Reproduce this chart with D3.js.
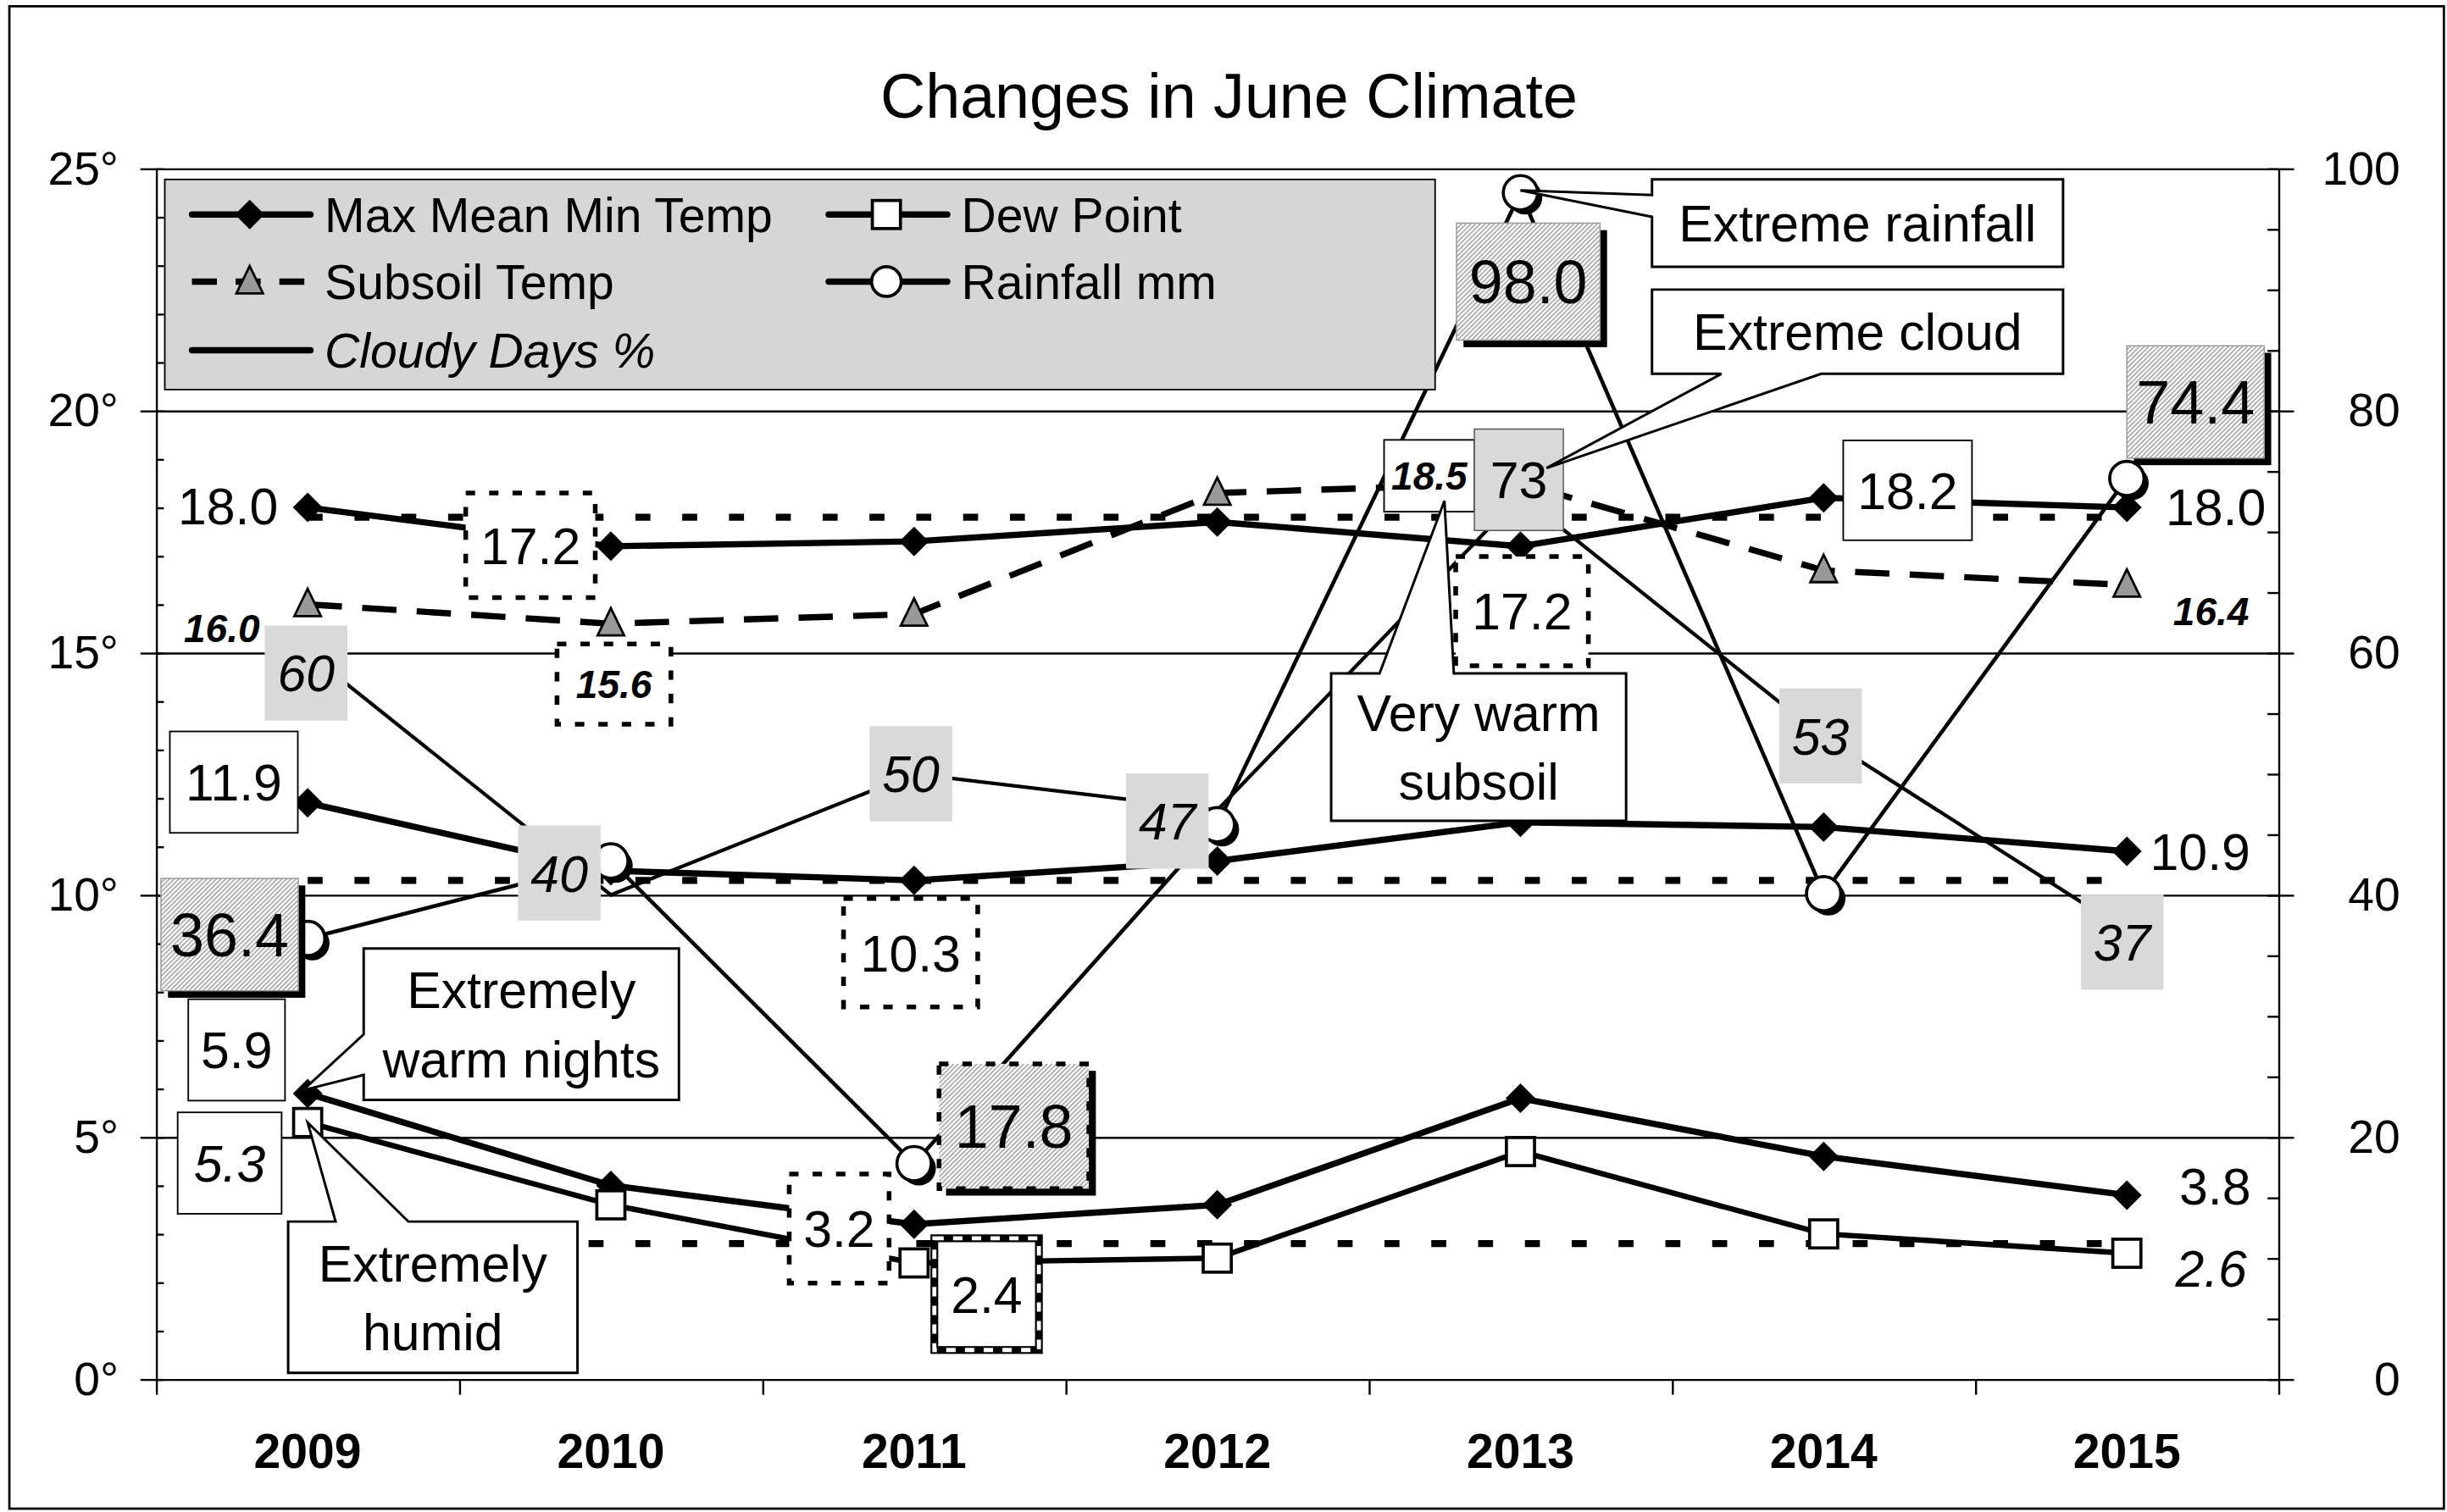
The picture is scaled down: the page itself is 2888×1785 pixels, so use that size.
<!DOCTYPE html>
<html>
<head>
<meta charset="utf-8">
<script src="https://cdn.jsdelivr.net/npm/d3@7"></script>
<style>
  body { margin: 0; background: #fff; }
  svg { display: block; }
</style>
</head>
<body>
<svg></svg>
<script>
let years = [ '2009', '2010', '2011', '2012', '2013', '2014', '2015' ]
let maxTemp = [ 18.0, 17.2, 17.3, 17.7, 17.2, 18.2, 18.0 ]
let meanTemp = [ 11.9, 10.5, 10.3, 10.7, 11.5, 11.4, 10.9 ]
let minTemp = [ 5.9, 4.0, 3.2, 3.6, 5.8, 4.6, 3.8 ]
let dewPoint = [ 5.3, 3.6, 2.4, 2.5, 4.7, 3.0, 2.6 ]
let subsoilTemp = [ 16.0, 15.6, 15.8, 18.3, 18.5, 16.7, 16.4 ]
let rainfall = [ 36.4, 42.8, 17.8, 45.8, 98.0, 40.1, 74.4 ]
let cloudyDays = [ 60, 40, 50, 47, 73, 53, 37 ]
let longTermMeans = [ 17.8, 10.3, 2.8 ]
let leftTicks = [ 0, 5, 10, 15, 20, 25 ]
let rightTicks = [ 0, 20, 40, 60, 80, 100 ]

const FONT = '"Liberation Sans", Arial, Helvetica, sans-serif'

// everything is laid out in a 1568 wide box and scaled up to the window
let width = 2888
let height = 1785
let unit = width / 1568

let svg =
d3.select( 'svg' )
  .attr( 'width', width )
  .attr( 'height', height )
  .attr( 'viewBox', `0 0 1568 ${ height / unit }` )
  .attr( 'font-family', FONT )

const xScale =
d3.scaleBand()
  .domain( years )
  .range( [ 100, 1460 ] )

const xMid = year => xScale( year ) + xScale.bandwidth() / 2

const yLeft =
d3.scaleLinear()
  .domain( [ 0, 25 ] )
  .range( [ 884, 108 ] )

const yRight =
d3.scaleLinear()
  .domain( [ 0, 100 ] )
  .range( [ 884, 108 ] )

let seriesValues = {
  max: maxTemp, mean: meanTemp, min: minTemp, dew: dewPoint,
  subsoil: subsoilTemp, rain: rainfall, cloud: cloudyDays
}

const scaleFor = key => ( key === 'rain' || key === 'cloud' ) ? yRight : yLeft

const pointOf = ( key, year ) => {
  let i = years.indexOf( year )
  return [ xMid( year ), scaleFor( key )( seriesValues[ key ][ i ] ) ]
}

let defs = svg.append( 'defs' )

defs.append( 'pattern' )
  .attr( 'id', 'hatch' )
  .attr( 'patternUnits', 'userSpaceOnUse' )
  .attr( 'width', 3 )
  .attr( 'height', 3 )
  .append( 'path' )
  .attr( 'd', 'M-1,1 l2,-2 M0,3 l3,-3 M2,4 l2,-2' )
  .attr( 'stroke', '#8c8c8c' )
  .attr( 'stroke-width', 0.7 )

// frame and title
svg.append( 'rect' )
  .attr( 'x', 6 )
  .attr( 'y', 4 )
  .attr( 'width', 1560 )
  .attr( 'height', 963 )
  .attr( 'fill', '#fff' )
  .attr( 'stroke', '#000' )
  .attr( 'stroke-width', 1.5 )

svg.append( 'text' )
  .text( 'Changes in June Climate' )
  .attr( 'x', 787.5 )
  .attr( 'y', 75.6 )
  .attr( 'text-anchor', 'middle' )
  .attr( 'font-size', 40 )

// axes and grid
const styleAxis = ( g, size ) => {
  g.attr( 'font-family', FONT ).attr( 'font-size', size )
  g.selectAll( 'line' ).attr( 'stroke', '#000' ).attr( 'stroke-width', 1.3 )
  g.selectAll( '.domain' ).attr( 'stroke', '#000' ).attr( 'stroke-width', 1.3 )
  g.selectAll( 'text' ).attr( 'fill', '#000' )
}

svg.append( 'g' )
  .attr( 'transform', 'translate(100,0)' )
  .call( d3.axisLeft( yLeft ).tickValues( leftTicks.filter( d => d > 0 ) ).tickSize( -1360 ).tickFormat( '' ) )
  .call( g => g.select( '.domain' ).remove() )
  .call( g => styleAxis( g, 30 ) )

svg.append( 'g' )
  .attr( 'transform', 'translate(100,0)' )
  .call( d3.axisLeft( yLeft ).tickValues( d3.range( 0, 26 ) ).tickSizeInner( -5 ).tickSizeOuter( 0 ).tickFormat( '' ) )
  .call( g => styleAxis( g, 30 ) )

svg.append( 'g' )
  .attr( 'transform', 'translate(100,0)' )
  .call( d3.axisLeft( yLeft ).tickValues( leftTicks ).tickSizeInner( 10 ).tickSizeOuter( 0 ).tickPadding( 14 ).tickFormat( d => d + '°' ) )
  .call( g => g.select( '.domain' ).remove() )
  .call( g => styleAxis( g, 30 ) )

svg.append( 'g' )
  .attr( 'transform', 'translate(1460,0)' )
  .call( d3.axisRight( yRight ).tickValues( d3.range( 0, 101, 5 ) ).tickSizeInner( -7 ).tickSizeOuter( 0 ).tickFormat( '' ) )
  .call( g => styleAxis( g, 30 ) )

svg.append( 'g' )
  .attr( 'transform', 'translate(1460,0)' )
  .call( d3.axisRight( yRight ).tickValues( rightTicks ).tickSizeInner( 10 ).tickSizeOuter( 0 ).tickFormat( d3.format( 'd' ) ) )
  .call( g => g.select( '.domain' ).remove() )
  .call( g => styleAxis( g, 30 ) )
  .call( g => g.selectAll( 'text' ).attr( 'text-anchor', 'end' ).attr( 'x', 78 ) )

svg.append( 'g' )
  .attr( 'transform', 'translate(0,884)' )
  .call( d3.axisBottom( d3.scaleLinear().domain( [ 0, years.length ] ).range( xScale.range() ) )
    .ticks( years.length ).tickSizeInner( 10 ).tickSizeOuter( 0 ).tickFormat( '' ) )
  .call( g => styleAxis( g, 31 ) )

svg.append( 'g' )
  .attr( 'transform', 'translate(0,884)' )
  .call( d3.axisBottom( xScale ).tickSize( 0 ).tickPadding( 35 ) )
  .call( g => g.select( '.domain' ).remove() )
  .call( g => styleAxis( g, 31 ) )
  .call( g => g.selectAll( 'text' ).attr( 'font-weight', 'bold' ) )

// long term means, dotted
let meanLine =
d3.line()
  .x( d => xMid( d.year ) )
  .y( d => yLeft( d.value ) )

svg.append( 'g' )
  .selectAll( 'path' )
  .data( longTermMeans )
  .enter()
  .append( 'path' )
  .attr( 'd', v => meanLine( years.map( year => ( { year, value: v } ) ) ) )
  .attr( 'fill', 'none' )
  .attr( 'stroke', '#000' )
  .attr( 'stroke-width', 4.5 )
  .attr( 'stroke-dasharray', '9.6,20.4' )

// series lines
let lineStyles = [
  { key: 'cloud', width: 2.3, dash: null },
  { key: 'rain', width: 2.5, dash: null },
  { key: 'subsoil', width: 4, dash: '22,13' },
  { key: 'max', width: 4, dash: null },
  { key: 'mean', width: 4, dash: null },
  { key: 'min', width: 4, dash: null },
  { key: 'dew', width: 3.5, dash: null }
]

let lines =
svg.append( 'g' )
  .selectAll( 'path' )
  .data( lineStyles )
  .enter()
  .append( 'path' )

lines
  .attr( 'd', s => d3.line()
    .x( ( d, i ) => xMid( years[ i ] ) )
    .y( d => scaleFor( s.key )( d ) )( seriesValues[ s.key ] ) )
  .attr( 'fill', 'none' )
  .attr( 'stroke', '#000' )
  .attr( 'stroke-width', s => s.width )
  .attr( 'stroke-dasharray', s => s.dash )

// markers
const drawMarker = ( g, type, x, y, legend ) => {
  let m = g.append( 'g' ).attr( 'transform', `translate(${ x },${ y })` )
  if ( type === 'diamond' ) {
    m.append( 'path' ).attr( 'd', 'M0,-9.5L9.5,0L0,9.5L-9.5,0Z' ).attr( 'fill', '#000' )
  } else if ( type === 'square' ) {
    m.append( 'rect' ).attr( 'x', -9 ).attr( 'y', -9 ).attr( 'width', 18 ).attr( 'height', 18 )
      .attr( 'fill', '#fff' ).attr( 'stroke', '#000' ).attr( 'stroke-width', 2 )
  } else if ( type === 'triangle' ) {
    m.append( 'path' ).attr( 'd', 'M0,-10L8.5,7.5L-8.5,7.5Z' )
      .attr( 'fill', '#999' ).attr( 'stroke', '#000' ).attr( 'stroke-width', 1.5 )
  } else if ( type === 'circle' ) {
    let r = legend ? 9.5 : 11
    if ( !legend ) {
      m.append( 'circle' ).attr( 'cx', 3 ).attr( 'cy', 3 ).attr( 'r', r ).attr( 'fill', '#000' )
    }
    m.append( 'circle' ).attr( 'r', r )
      .attr( 'fill', '#fff' ).attr( 'stroke', '#000' ).attr( 'stroke-width', 2 )
  }
}

let markerTypes = [
  { key: 'subsoil', type: 'triangle' },
  { key: 'max', type: 'diamond' },
  { key: 'mean', type: 'diamond' },
  { key: 'min', type: 'diamond' },
  { key: 'dew', type: 'square' },
  { key: 'rain', type: 'circle' }
]

let markerLayer = svg.append( 'g' )
markerTypes.forEach( s => {
  years.forEach( year => {
    let [ x, y ] = pointOf( s.key, year )
    drawMarker( markerLayer, s.type, x, y, false )
  } )
} )

// value labels
let fonts = {
  reg: { size: 33, style: 'normal', weight: 'normal' },
  ital: { size: 33, style: 'italic', weight: 'normal' },
  bi: { size: 25, style: 'italic', weight: 'bold' },
  big: { size: 39, style: 'normal', weight: 'normal' }
}

let labels = [
  { key: 'max', year: '2009', dx: -51, dy: -1, box: 'none', font: 'reg' },
  { key: 'max', year: '2010', dx: -51.5, dy: -0.6, w: 83, h: 67, box: 'dotted', font: 'reg' },
  { key: 'max', year: '2013', dx: 1, dy: 41.6, w: 85, h: 70, box: 'dotted', font: 'reg' },
  { key: 'max', year: '2014', dx: 53.8, dy: -4.8, w: 82.5, h: 64, box: 'solid', font: 'reg' },
  { key: 'max', year: '2015', dx: 57, dy: -0.6, box: 'none', font: 'reg' },
  { key: 'mean', year: '2009', dx: -47.3, dy: -13.3, w: 82, h: 65, box: 'solid', font: 'reg' },
  { key: 'mean', year: '2011', dx: -2.2, dy: 46.4, w: 86, h: 69.5, box: 'dotted', font: 'reg' },
  { key: 'mean', year: '2015', dx: 47, dy: 0, box: 'none', font: 'reg' },
  { key: 'min', year: '2009', dx: -45.5, dy: -27.9, w: 62, h: 65, box: 'solid', font: 'reg' },
  { key: 'min', year: '2011', dx: -48, dy: 2.8, w: 64, h: 70, box: 'dotted', font: 'reg' },
  { key: 'min', year: '2015', dx: 56.5, dy: -6, box: 'none', font: 'reg' },
  { key: 'dew', year: '2009', dx: -50, dy: 26, w: 66.6, h: 65, box: 'solid', font: 'ital' },
  { key: 'dew', year: '2011', dx: 46.5, dy: 20, w: 67, h: 71.6, box: 'double', font: 'reg' },
  { key: 'dew', year: '2015', dx: 54, dy: 9.5, box: 'none', font: 'ital' },
  { key: 'subsoil', year: '2009', dx: -55, dy: 15, box: 'none', font: 'bi' },
  { key: 'subsoil', year: '2010', dx: 2, dy: 38.7, w: 73, h: 51.5, box: 'dotted', font: 'bi' },
  { key: 'subsoil', year: '2013', dx: -58.4, dy: -4.8, w: 58, h: 46, box: 'solid', font: 'bi' },
  { key: 'subsoil', year: '2015', dx: 54, dy: 16.7, box: 'none', font: 'bi' },
  { key: 'rain', year: '2009', dx: -50, dy: -2.5, w: 88, h: 72, box: 'hatch', font: 'big' },
  { key: 'rain', year: '2011', dx: 64, dy: -24, w: 96, h: 80, box: 'hatchDotted', font: 'big' },
  { key: 'rain', year: '2013', dx: 5, dy: 57, w: 92, h: 75, box: 'hatch', font: 'big' },
  { key: 'rain', year: '2015', dx: 44, dy: -49, w: 88, h: 72, box: 'hatch', font: 'big' },
  { key: 'cloud', year: '2009', dx: -1, dy: 13, w: 53, h: 61, box: 'gray', font: 'ital' },
  { key: 'cloud', year: '2010', dx: -33, dy: -14, w: 53, h: 61, box: 'gray', font: 'ital' },
  { key: 'cloud', year: '2011', dx: -2, dy: 0, w: 53, h: 61, box: 'gray', font: 'ital' },
  { key: 'cloud', year: '2012', dx: -32, dy: 7, w: 53, h: 61, box: 'gray', font: 'ital' },
  { key: 'cloud', year: '2013', dx: -1, dy: -10, w: 57, h: 65, box: 'grayLine', font: 'reg' },
  { key: 'cloud', year: '2014', dx: -2, dy: -1, w: 53, h: 61, box: 'gray', font: 'ital' },
  { key: 'cloud', year: '2015', dx: -3, dy: 7, w: 53, h: 61, box: 'gray', font: 'ital' }
]

const boxRect = ( g, cx, cy, w, h ) =>
  g.append( 'rect' )
    .attr( 'x', cx - w / 2 )
    .attr( 'y', cy - h / 2 )
    .attr( 'width', w )
    .attr( 'height', h )

let labelLayer = svg.append( 'g' )
labels.forEach( l => {
  let [ px, py ] = pointOf( l.key, l.year )
  let cx = px + l.dx
  let cy = py + l.dy
  let g = labelLayer.append( 'g' )
  if ( l.box === 'solid' ) {
    boxRect( g, cx, cy, l.w, l.h ).attr( 'fill', '#fff' ).attr( 'stroke', '#000' ).attr( 'stroke-width', 1 )
  } else if ( l.box === 'dotted' ) {
    boxRect( g, cx, cy, l.w, l.h ).attr( 'fill', '#fff' ).attr( 'stroke', '#000' )
      .attr( 'stroke-width', 3 ).attr( 'stroke-dasharray', '6,9' )
  } else if ( l.box === 'gray' || l.box === 'grayLine' ) {
    boxRect( g, cx, cy, l.w, l.h ).attr( 'fill', '#d9d9d9' )
      .attr( 'stroke', l.box === 'grayLine' ? '#555' : 'none' ).attr( 'stroke-width', 0.8 )
  } else if ( l.box === 'double' ) {
    boxRect( g, cx, cy, l.w, l.h ).attr( 'fill', '#fff' ).attr( 'stroke', '#000' ).attr( 'stroke-width', 5 )
    boxRect( g, cx, cy, l.w, l.h ).attr( 'fill', 'none' ).attr( 'stroke', '#fff' )
      .attr( 'stroke-width', 2.6 ).attr( 'stroke-dasharray', '6,6' )
  } else if ( l.box === 'hatch' || l.box === 'hatchDotted' ) {
    boxRect( g, cx + 4.5, cy + 4.5, l.w, l.h ).attr( 'fill', '#000' )
    boxRect( g, cx, cy, l.w, l.h ).attr( 'fill', '#fff' )
    let r = boxRect( g, cx, cy, l.w, l.h ).attr( 'fill', 'url(#hatch)' )
    if ( l.box === 'hatchDotted' ) {
      r.attr( 'stroke', '#000' ).attr( 'stroke-width', 3 ).attr( 'stroke-dasharray', '6,9' )
    } else {
      r.attr( 'stroke', '#999' ).attr( 'stroke-width', 0.8 )
    }
  }
  let f = fonts[ l.font ]
  let fmt = l.key === 'cloud' ? d3.format( 'd' ) : d3.format( '.1f' )
  g.append( 'text' )
    .text( fmt( seriesValues[ l.key ][ years.indexOf( l.year ) ] ) )
    .attr( 'x', cx )
    .attr( 'y', cy )
    .attr( 'dy', '0.36em' )
    .attr( 'text-anchor', 'middle' )
    .attr( 'font-size', f.size )
    .attr( 'font-style', f.style )
    .attr( 'font-weight', f.weight )
} )

// legend
let legend = svg.append( 'g' )

legend.append( 'rect' )
  .attr( 'x', 105.6 )
  .attr( 'y', 115 )
  .attr( 'width', 814 )
  .attr( 'height', 134.7 )
  .attr( 'fill', '#d6d6d6' )
  .attr( 'stroke', '#000' )
  .attr( 'stroke-width', 1 )

let legendItems = [
  { label: 'Max Mean Min Temp', col: 0, row: 0, marker: 'diamond', dash: null, italic: false },
  { label: 'Subsoil Temp', col: 0, row: 1, marker: 'triangle', dash: '16,12', italic: false },
  { label: 'Cloudy Days %', col: 0, row: 2, marker: null, dash: null, italic: true },
  { label: 'Dew Point', col: 1, row: 0, marker: 'square', dash: null, italic: false },
  { label: 'Rainfall mm', col: 1, row: 1, marker: 'circle', dash: null, italic: false }
]

let colX = [ 123, 531 ]
let rowY = [ 137.5, 180.5, 224.5 ]

legendItems.forEach( item => {
  let x = colX[ item.col ]
  let y = rowY[ item.row ]
  legend.append( 'line' )
    .attr( 'x1', x )
    .attr( 'x2', x + 76 )
    .attr( 'y1', y )
    .attr( 'y2', y )
    .attr( 'stroke', '#000' )
    .attr( 'stroke-width', 4 )
    .attr( 'stroke-linecap', item.dash ? 'butt' : 'round' )
    .attr( 'stroke-dasharray', item.dash )
  if ( item.marker ) drawMarker( legend, item.marker, x + 37, y, true )
  legend.append( 'text' )
    .text( item.label )
    .attr( 'x', x + 85 )
    .attr( 'y', y )
    .attr( 'dy', '0.36em' )
    .attr( 'font-size', 31 )
    .attr( 'font-style', item.italic ? 'italic' : 'normal' )
} )

// callouts
let callouts = [
  { key: 'rain', year: '2013', tip: [ 0, -1.5 ], box: [ 84.3, -8.5, 263.4, 56 ], side: 'left', base: [ 10, 24 ], lines: [ 'Extreme rainfall' ] },
  { key: 'cloud', year: '2013', tip: [ 16.7, -17.5 ], box: [ 84.3, -131.9, 263.4, 54 ], side: 'bottom', base: [ 44.4, 108.4 ], lines: [ 'Extreme cloud' ] },
  { key: 'subsoil', year: '2013', tip: [ -48.7, 11.3 ], box: [ -121.3, 121.9, 189, 94.4 ], side: 'top', base: [ 31, 78.6 ], lines: [ 'Very warm', 'subsoil' ] },
  { key: 'min', year: '2009', tip: [ -3, -2 ], box: [ 35.9, -92.9, 202, 97 ], side: 'left', base: [ 55, 81 ], lines: [ 'Extremely', 'warm nights' ] },
  { key: 'dew', year: '2009', tip: [ 0, 0 ], box: [ -12.5, 63.5, 185.4, 97 ], side: 'top', base: [ 30.4, 77 ], lines: [ 'Extremely', 'humid' ] }
]

let calloutLayer = svg.append( 'g' )
callouts.forEach( c => {
  let [ px, py ] = pointOf( c.key, c.year )
  let tx = px + c.tip[ 0 ]
  let ty = py + c.tip[ 1 ]
  let x0 = px + c.box[ 0 ]
  let y0 = py + c.box[ 1 ]
  let x1 = x0 + c.box[ 2 ]
  let y1 = y0 + c.box[ 3 ]
  let p = d3.path()
  if ( c.side === 'left' ) {
    p.moveTo( x0, y0 ); p.lineTo( x1, y0 ); p.lineTo( x1, y1 ); p.lineTo( x0, y1 )
    p.lineTo( x0, y0 + c.base[ 1 ] ); p.lineTo( tx, ty ); p.lineTo( x0, y0 + c.base[ 0 ] )
  } else if ( c.side === 'top' ) {
    p.moveTo( x0, y0 ); p.lineTo( x0 + c.base[ 0 ], y0 ); p.lineTo( tx, ty ); p.lineTo( x0 + c.base[ 1 ], y0 )
    p.lineTo( x1, y0 ); p.lineTo( x1, y1 ); p.lineTo( x0, y1 )
  } else {
    p.moveTo( x0, y0 ); p.lineTo( x1, y0 ); p.lineTo( x1, y1 ); p.lineTo( x0 + c.base[ 1 ], y1 )
    p.lineTo( tx, ty ); p.lineTo( x0 + c.base[ 0 ], y1 ); p.lineTo( x0, y1 )
  }
  p.closePath()
  calloutLayer.append( 'path' )
    .attr( 'd', p.toString() )
    .attr( 'fill', '#fff' )
    .attr( 'stroke', '#000' )
    .attr( 'stroke-width', 1.6 )
    .attr( 'stroke-linejoin', 'miter' )
  let cx = ( x0 + x1 ) / 2
  let cy = ( y0 + y1 ) / 2
  c.lines.forEach( ( line, i ) => {
    calloutLayer.append( 'text' )
      .text( line )
      .attr( 'x', cx )
      .attr( 'y', cy + ( i - ( c.lines.length - 1 ) / 2 ) * 44 )
      .attr( 'dy', '0.36em' )
      .attr( 'text-anchor', 'middle' )
      .attr( 'font-size', 33 )
  } )
} )
</script>
</body>
</html>
